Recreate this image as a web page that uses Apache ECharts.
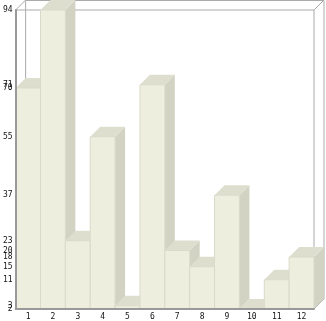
<!DOCTYPE html>
<html><head><meta charset="utf-8">
<script src="https://cdn.jsdelivr.net/npm/echarts@6/dist/echarts.min.js"></script>
<style>html,body{margin:0;padding:0;background:#fff}#c{width:326px;height:321px}</style>
</head><body><div id="c"></div>
<script>
const categories = ['1','2','3','4','5','6','7','8','9','10','11','12'];
const values = [70, 94, 23, 55, 3, 71, 20, 15, 37, 2, 11, 18];
const yTicks = [94, 71, 70, 55, 37, 23, 20, 18, 15, 11, 2];
const yTicksExtra = [3];
const yMin = 2, yMax = 94;

const DX = 10, DY = 10;
const FRONT = '#eeeedf', TOP = '#dedece', SIDE = '#d3d3c3', EDGE = '#dadaca', FRAME = '#aaaaaa';
const labelFont = {fontFamily: 'DejaVu Sans Mono', fontSize: 8, color: '#111'};

const chart = echarts.init(document.getElementById('c'));
chart.setOption({
  animation: false,
  grid: {left: 14, right: 12, top: 10, bottom: 11},
  xAxis: {
    type: 'category', data: categories, z: 10,
    axisLine: {lineStyle: {color: '#999', width: 2}},
    axisTick: {show: false},
    axisLabel: Object.assign({margin: 4}, labelFont)
  },
  yAxis: [{
    type: 'value', min: yMin, max: yMax, z: 10,
    axisLine: {show: true, lineStyle: {color: '#999', width: 2}},
    axisTick: {show: false},
    splitLine: {show: false},
    axisLabel: Object.assign({margin: 3, customValues: yTicks, showMinLabel: true, showMaxLabel: true, hideOverlap: false}, labelFont)
  }, {
    type: 'value', min: yMin, max: yMax, position: 'left', z: 10,
    axisLine: {show: false},
    axisTick: {show: false},
    splitLine: {show: false},
    axisLabel: Object.assign({margin: 3, customValues: yTicksExtra, hideOverlap: false}, labelFont)
  }],
  series: [
    {
      type: 'custom', z: 1, silent: true,
      data: [[0, yMin]],
      renderItem: function (params, api) {
        const cs = params.coordSys;
        const l = cs.x, t = cs.y, r = cs.x + cs.width, b = cs.y + cs.height;
        const ls = {stroke: FRAME, lineWidth: 1, fill: null};
        return {type: 'group', children: [
          {type: 'polyline', shape: {points: [[l + DX, b - DY], [l + DX, t - DY + 0.5], [r + DX, t - DY + 0.5], [r + DX, b - DY]]}, style: ls},
          {type: 'line', shape: {x1: l, y1: t, x2: l + DX, y2: t - DY}, style: ls},
          {type: 'line', shape: {x1: r, y1: t, x2: r + DX, y2: t - DY}, style: ls},
          {type: 'line', shape: {x1: r, y1: b, x2: r + DX, y2: b - DY}, style: ls},
          {type: 'line', shape: {x1: l, y1: t, x2: r, y2: t}, style: ls},
          {type: 'line', shape: {x1: r, y1: t, x2: r, y2: b}, style: ls}
        ]};
      }
    },
    {
      type: 'custom', z: 2,
      encode: {x: 0, y: 1},
      data: values.map((v, i) => [i, v]),
      renderItem: function (params, api) {
        const i = api.value(0), v = api.value(1);
        const top = api.coord([i, v]);
        const base = api.coord([i, yMin]);
        const w = api.size([1, 0])[0];
        const x0 = top[0] - w / 2, x1 = x0 + w, ty = top[1], by = base[1];
        return {type: 'group', children: [
          {type: 'polygon', shape: {points: [[x1, ty], [x1 + DX, ty - DY], [x1 + DX, by - DY], [x1, by]]}, style: {fill: SIDE}},
          {type: 'polygon', shape: {points: [[x0, ty], [x0 + DX, ty - DY], [x1 + DX, ty - DY], [x1, ty]]}, style: {fill: TOP}},
          {type: 'rect', shape: {x: x0, y: ty, width: w, height: by - ty}, style: {fill: FRONT, stroke: EDGE, lineWidth: 1}}
        ]};
      }
    }
  ]
});
</script></body></html>
